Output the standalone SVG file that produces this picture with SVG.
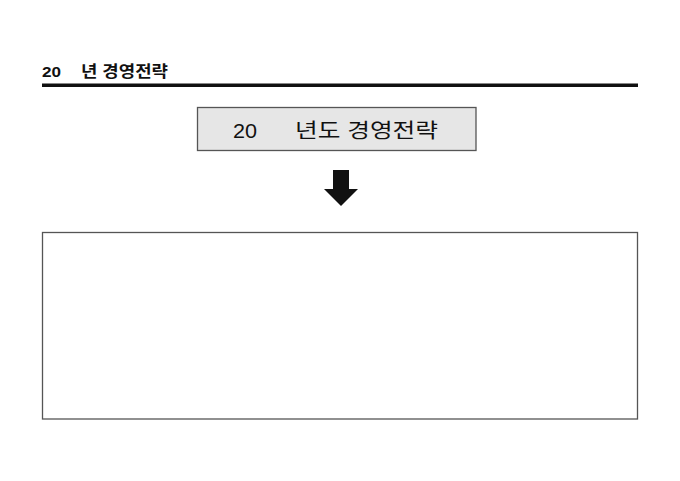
<svg xmlns="http://www.w3.org/2000/svg" width="680" height="481" viewBox="0 0 680 481">
<style>
.hdr{font-family:"Liberation Sans","Noto Sans CJK KR",sans-serif;font-weight:bold;font-size:15.5px;fill:#111}
.ttl{font-family:"Liberation Sans","Noto Sans CJK KR",sans-serif;font-size:20px;fill:#111}
.box{fill:#fff;stroke:#555;stroke-width:1.3}
</style>
<rect width="680" height="481" fill="#fff"/>
<g id="header">
<text class="hdr" x="42" y="77" textLength="19" lengthAdjust="spacingAndGlyphs">20</text>
<text class="hdr" x="81" y="77" textLength="87" lengthAdjust="spacingAndGlyphs">년 경영전략</text>
<rect x="42" y="83.5" width="596" height="3.5" fill="#111"/>
</g>
<g id="title">
<rect x="197.5" y="107.5" width="278.5" height="43" fill="#e6e6e6" stroke="#555" stroke-width="1.3"/>
<text class="ttl" x="233" y="137.5" textLength="24" lengthAdjust="spacingAndGlyphs">20</text>
<text class="ttl" x="295" y="137.5" textLength="143" lengthAdjust="spacingAndGlyphs">년도 경영전략</text>
</g>
<g id="connectors">
<polygon points="333,170 349,170 349,189 358,189 341,206 324,189 333,189" fill="#111"/>
</g>
<g id="content">
<rect class="box" x="42.5" y="232.5" width="595" height="186.5"/>
</g>
</svg>
